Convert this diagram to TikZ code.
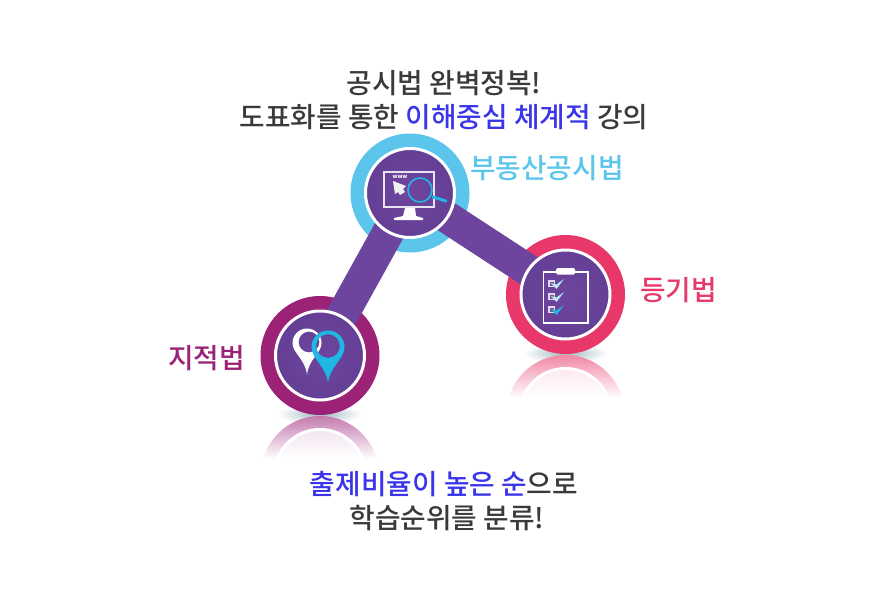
\documentclass[tikz,border=0pt]{standalone}
\usepackage{fontspec}
\setmainfont{Noto Sans CJK KR}[UprightFont=* Medium]
\usetikzlibrary{backgrounds}
\definecolor{bandpurple}{HTML}{6E459E}
\definecolor{discdark}{HTML}{643F95}
\definecolor{skyring}{HTML}{5CC5EC}
\definecolor{pinkring}{HTML}{E8386A}
\definecolor{plumring}{HTML}{9C2278}
\definecolor{darktext}{HTML}{3A3A3C}
\definecolor{bluetext}{HTML}{3A35E8}
\definecolor{cyanmark}{HTML}{1FB7E4}
\definecolor{shadowteal}{HTML}{9DB8BF}
\tikzset{
  disc/.style={circle,draw=white,line width=3pt,inner color=bandpurple,outer color=discdark,minimum size=89pt,inner sep=0pt},
  ring/.style={circle,fill=#1,minimum size=119pt,inner sep=0pt},
  band/.style={bandpurple,line width=32pt,shorten <=-8pt,shorten >=-8pt},
  lbl/.style={font=\fontsize{27.8}{32}\selectfont,text=darktext,inner sep=0pt},
}
\newcommand{\badge}[4]{\node[disc] (disc#1) at ( #2 , #3 ) {}; \begin{scope}[on background layer] \node[ring=#4] (ring#1) at ( #2 , #3 ) {}; \end{scope}}
\newcommand{\mirror}[3]{\shade[inner color=shadowteal,outer color=white] ( #1 , #2 - 1 ) ellipse (42 and 10);
  \begin{scope} \clip ( #1 , #2 + 60 ) circle (59); \shade[top color=#3!60,bottom color=white] ( #1 - 60 , #2 + 1 ) rectangle ( #1 + 60 , #2 + 44 ); \end{scope}
  \begin{scope} \clip ( #1 , #2 + 60 ) circle (44.5); \shade[top color=#3!12,bottom color=white] ( #1 - 60 , #2 + 13 ) rectangle ( #1 + 60 , #2 + 44 ); \end{scope}
  \draw[white,line width=3pt] ( #1 , #2 + 60 ) circle (45.5);}
\newcommand{\pinmark}[6]{\fill[#5,even odd rule] ( #1 - #3 , #2 ) arc(180:360:#3) .. controls ( #1 + #3 , #2 + #3 * 0.7 ) and ( #1 + 1.5 , #2 + #4 - 16 ) .. ( #1 , #2 + #4 ) .. controls ( #1 - 1.5 , #2 + #4 - 16 ) and ( #1 - #3 , #2 + #3 * 0.7 ) .. cycle ( #1 + #6 , #2 - 1 ) circle ( #3 * 0.72 );}
\newcommand{\tickbox}[3]{\fill[white!80!bandpurple] ( #1 , #2 ) rectangle ( #1 + 7 , #2 + 7 ); \fill[bandpurple!70!gray] ( #1 + 1.5 , #2 + 1.5 ) rectangle ( #1 + 5.5 , #2 + 5.5 ); \fill[#3] ( #1 + 2.5 , #2 + 3 ) -- ( #1 + 8.5 , #2 + 9 ) -- ( #1 + 16 , #2 - 1 ) -- ( #1 + 8.5 , #2 + 4.5 ) -- cycle;}
\begin{document}
\begin{tikzpicture}[x=1pt,y=-1pt]
        \useasboundingbox (0,0) rectangle (886,600);

        % reflections
        \begin{scope}[on background layer]
        \mirror{565.5}{354}{pinkring}
        \mirror{320}{415}{plumring}
        \end{scope}

        % badges
        \badge{Top}{410}{193}{skyring}
        \badge{Right}{565.5}{294.5}{pinkring}
        \badge{Left}{320}{355.5}{plumring}

        % bands
        \begin{scope}[on background layer]
        \draw[band] (discTop) -- (discRight);
        \draw[band] (discTop) -- (discLeft);
        \end{scope}

        % monitor
        \draw[white!85!bandpurple,line width=1.8pt] (384,172) rectangle (434,207);
        \fill[white] (405,208) -- (415,208) -- (416,216) -- (423,218) -- (423,220) -- (394,220) -- (394,218) -- (403,216) -- cycle;
        \fill[white!88!gray] (393,181) -- (406,186) -- (403,189) -- (405,192) -- (400,195) -- (398,192) -- (395,194) -- cycle;
        \node[font=\bfseries\fontsize{5.5}{5.5}\selectfont,text=white,inner sep=0pt] (wwwmark) at (400,177) {www};
        \draw[cyanmark,line width=1.6pt] (420,190) circle (12);
        \draw[cyanmark,line width=3pt,line cap=round] (433,197) -- (446,201);

        % clipboard
        \draw[white,line width=1.4pt] (543.5,272) rectangle (588,323);
        \fill[white,rounded corners=1.5pt] (556,268) rectangle (575,274.5);
        \tickbox{548}{280}{white!70!cyanmark}
        \tickbox{548}{293}{white!70!cyanmark}
        \tickbox{548}{306}{cyanmark}

        % pins
        \pinmark{307}{343}{14.5}{32}{white}{2}
        \pinmark{328}{347}{16.5}{36}{cyanmark}{0}

        % labels
        \node[lbl] (titleA) at (444,83) {공시법 완벽정복!};
        \node[lbl] (titleB) at (444,117) {도표화를 통한 \textcolor{bluetext}{이해중심 체계적} 강의};
        \node[lbl,text=skyring,anchor=west] (lablTop) at (470,168) {부동산공시법};
        \node[lbl,text=pinkring,anchor=west] (lablRight) at (640,290) {등기법};
        \node[lbl,text=plumring,anchor=west] (lablLeft) at (168,358) {지적법};
        \node[lbl] (noteA) at (444,484) {\textcolor{bluetext}{출제비율이 높은 순}으로};
        \node[lbl] (noteB) at (447,518) {학습순위를 분류!};
\end{tikzpicture}
\end{document}
